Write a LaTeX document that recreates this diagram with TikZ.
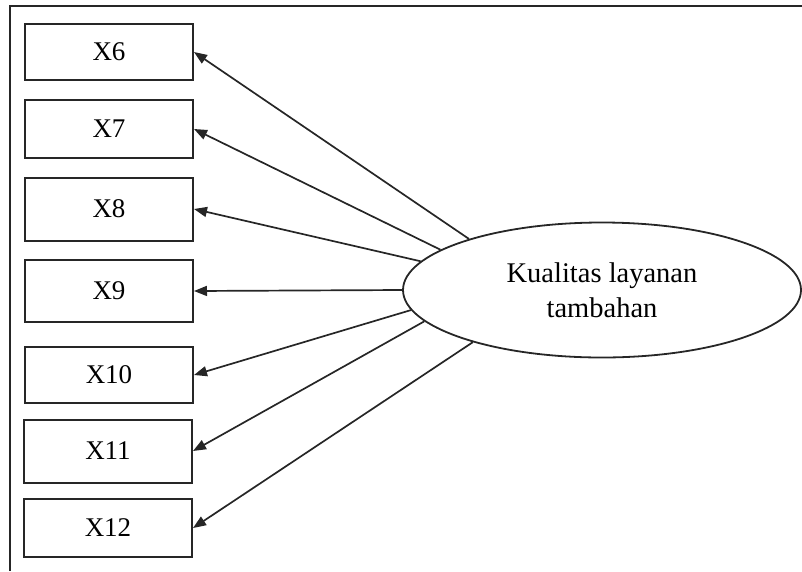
\documentclass[tikz,border=0pt]{standalone}
\usepackage{fontspec}
\setmainfont{Liberation Serif}
\usetikzlibrary{arrows.meta,shapes.geometric}
\begin{document}
\begin{tikzpicture}[x=1pt,y=-1pt,
  itembox/.style={draw=black!85,line width=2pt,rectangle,minimum width=168pt,inner sep=0pt,font=\fontsize{27}{30}\selectfont},
  latent/.style={draw=black!85,line width=1.8pt,ellipse,minimum width=398pt,minimum height=135pt,inner sep=0pt,align=center,font=\fontsize{28.5}{35}\selectfont},
  link/.style={draw=black!85,line width=1.7pt,-{Triangle[length=13pt,width=10pt]}}]
\useasboundingbox (0,0) rectangle (802,571);
\draw[line width=2.2pt,draw=black!85] (10,571) -- (10,6) -- (802,6);
\node[itembox,minimum height=56pt] (x6) at (109,52) {X6};
\node[itembox,minimum height=58pt] (x7) at (109,129) {X7};
\node[itembox,minimum height=63pt] (x8) at (109,209) {X8};
\node[itembox,minimum height=62pt] (x9) at (109,291) {X9};
\node[itembox,minimum height=56pt] (x10) at (109,375) {X10};
\node[itembox,minimum height=63pt] (x11) at (108,451) {X11};
\node[itembox,minimum height=58pt] (x12) at (108,528) {X12};
\node[latent] (e) at (602,290) {Kualitas layanan\\tambahan};
\draw[link] (e.159) -- (x6.east);
\draw[link] (e.166.5) -- (x7.east);
\draw[link] (e.171.5) -- (x8.east);
\draw[link] (e.180) -- (x9.east);
\draw[link] (e.186) -- (x10.east);
\draw[link] (e.190) -- (x11.east);
\draw[link] (e.202.6) -- (x12.east);
\end{tikzpicture}
\end{document}
